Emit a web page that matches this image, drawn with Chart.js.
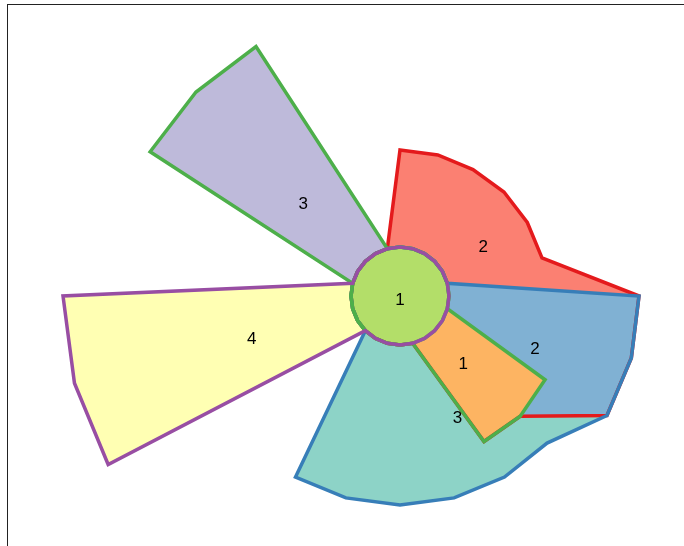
<!DOCTYPE html>
<html>
<head>
<meta charset="utf-8">
<script src="https://cdn.jsdelivr.net/npm/chart.js@4.4.0/dist/chart.umd.min.js"></script>
<style>
    html, body { margin: 0; padding: 0; background: #fff; }
    canvas { display: block; }
</style>
</head>
<body>
<canvas id="rose" width="684" height="546"></canvas>
<script>
// 24 spokes, 15 degrees apart, clockwise from 12 o'clock
var spokes = ['', '', '', '', '', '', '', '', '', '', '', '', '', '', '', '', '', '', '', '', '', '', '', ''];

// radius of the hub ring every wedge starts from
var hub = 49;

// outer radius of each wedge on every spoke (hub value where the wedge is absent)
var salmon   = [146, 146, 146, 147, 147, 147, 239, 239.5, 239, 170, 168, 49, 49, 49, 49, 49, 49, 49, 49, 49, 49, 49, 49, 49];
var teal     = [49, 49, 49, 49, 49, 49, 239, 239.5, 239, 208, 209, 209, 209, 209, 209, 49, 49, 49, 49, 49, 49, 49, 49, 49];
var blue     = [49, 49, 49, 49, 49, 49, 239, 239.5, 239, 170, 49, 49, 49, 49, 49, 49, 49, 49, 49, 49, 49, 49, 49, 49];
var lavender = [49, 49, 49, 49, 49, 49, 49, 49, 49, 49, 49, 49, 49, 49, 49, 49, 49, 49, 49, 49, 288.5, 288.5, 288, 49];
var orange   = [49, 49, 49, 49, 49, 49, 49, 49, 167.5, 170, 168, 49, 49, 49, 49, 49, 49, 49, 49, 49, 49, 49, 49, 49];
var yellow   = [49, 49, 49, 49, 49, 49, 49, 49, 49, 49, 49, 49, 49, 49, 49, 49, 337, 337, 337, 49, 49, 49, 49, 49];
var centre   = [49, 49, 49, 49, 49, 49, 49, 49, 49, 49, 49, 49, 49, 49, 49, 49, 49, 49, 49, 49, 49, 49, 49, 49];

// number written on each wedge
var counts = [2, 3, 2, 3, 1, 4, 1];

// layers from bottom to top
var layers = [
    { data: salmon,   fill: '#fb8072', line: '#e41a1c', width: 3.5 },
    { data: teal,     fill: '#8dd3c7', line: '#377eb8', width: 3.5 },
    { data: blue,     fill: '#80b1d3', line: '#377eb8', width: 0 },
    { data: lavender, fill: '#bebada', line: '#4daf4a', width: 3.5 },
    { data: orange,   fill: '#fdb462', line: '#4daf4a', width: 3.5 },
    { data: yellow,   fill: '#ffffb3', line: '#984ea3', width: 3.5 },
    { data: centre,   fill: '#b3de69', line: '#984ea3', width: 0 }
];

// where each number sits: [spoke, radius]
var labelSpots = [[3.93, 97.2], [10.31, 134.3], [7.41, 144.8], [20.92, 134], [9.12, 92.4], [16.95, 154.1], [12, 3]];

window.onload = function () {

    var datasets = layers.map(function (layer, i) {
        return {
            data: layer.data,
            backgroundColor: layer.fill,
            borderColor: layer.line,
            borderWidth: layer.width,
            // the hub fills to the centre, the wedges fill down to the hub ring
            fill: i === layers.length - 1 ? 'start' : { value: hub },
            order: layers.length - i
        };
    });

    // padding puts the centre off to the right, then the fill clip is
    // widened back to the whole canvas so the long wedges are not cut
    var fullArea = {
        id: 'fullArea',
        afterLayout: function (chart) {
            chart.chartArea = { left: 0, top: 0, right: chart.width, bottom: chart.height, width: chart.width, height: chart.height };
        }
    };

    var wedgeLabels = {
        id: 'wedgeLabels',
        afterDatasetsDraw: function (chart) {
            var ctx = chart.ctx;
            var scale = chart.scales.r;
            var size = 17;
            ctx.save();
            ctx.font = size + 'px "Liberation Sans", Arial, sans-serif';
            ctx.fillStyle = '#000';
            ctx.textAlign = 'center';
            ctx.textBaseline = 'alphabetic';
            counts.forEach(function (count, i) {
                var p = scale.getPointPositionForValue(labelSpots[i][0], labelSpots[i][1]);
                // digits are centred on the spot: drop the baseline by half the digit height
                ctx.fillText(String(count), p.x, p.y + size * 0.358);
            });
            ctx.restore();
        }
    };

    var frame = {
        id: 'frame',
        afterDraw: function (chart) {
            var ctx = chart.ctx;
            ctx.save();
            ctx.strokeStyle = '#222';
            ctx.lineWidth = 1;
            ctx.strokeRect(7.5, 4.5, 720, 600);
            ctx.restore();
        }
    };

    var ctx = document.getElementById('rose').getContext('2d');
    var rose = new Chart(ctx, {
        type: 'radar',
        data: {
            labels: spokes,
            datasets: datasets
        },
        plugins: [fullArea, wedgeLabels, frame],
        options: {
            responsive: false,
            animation: false,
            layout: { padding: { left: 116, right: 0, top: 46, bottom: 0 } },
            plugins: {
                legend: { display: false },
                tooltip: { enabled: false },
                filler: { drawTime: 'beforeDatasetsDraw' }
            },
            elements: {
                point: { radius: 0, hoverRadius: 0 },
                line: { tension: 0 }
            },
            scales: {
                r: {
                    min: 0,
                    max: 250,
                    grid: { display: false },
                    angleLines: { display: false },
                    ticks: { display: false },
                    pointLabels: { display: false }
                }
            }
        }
    });
};
</script>
</body>
</html>
